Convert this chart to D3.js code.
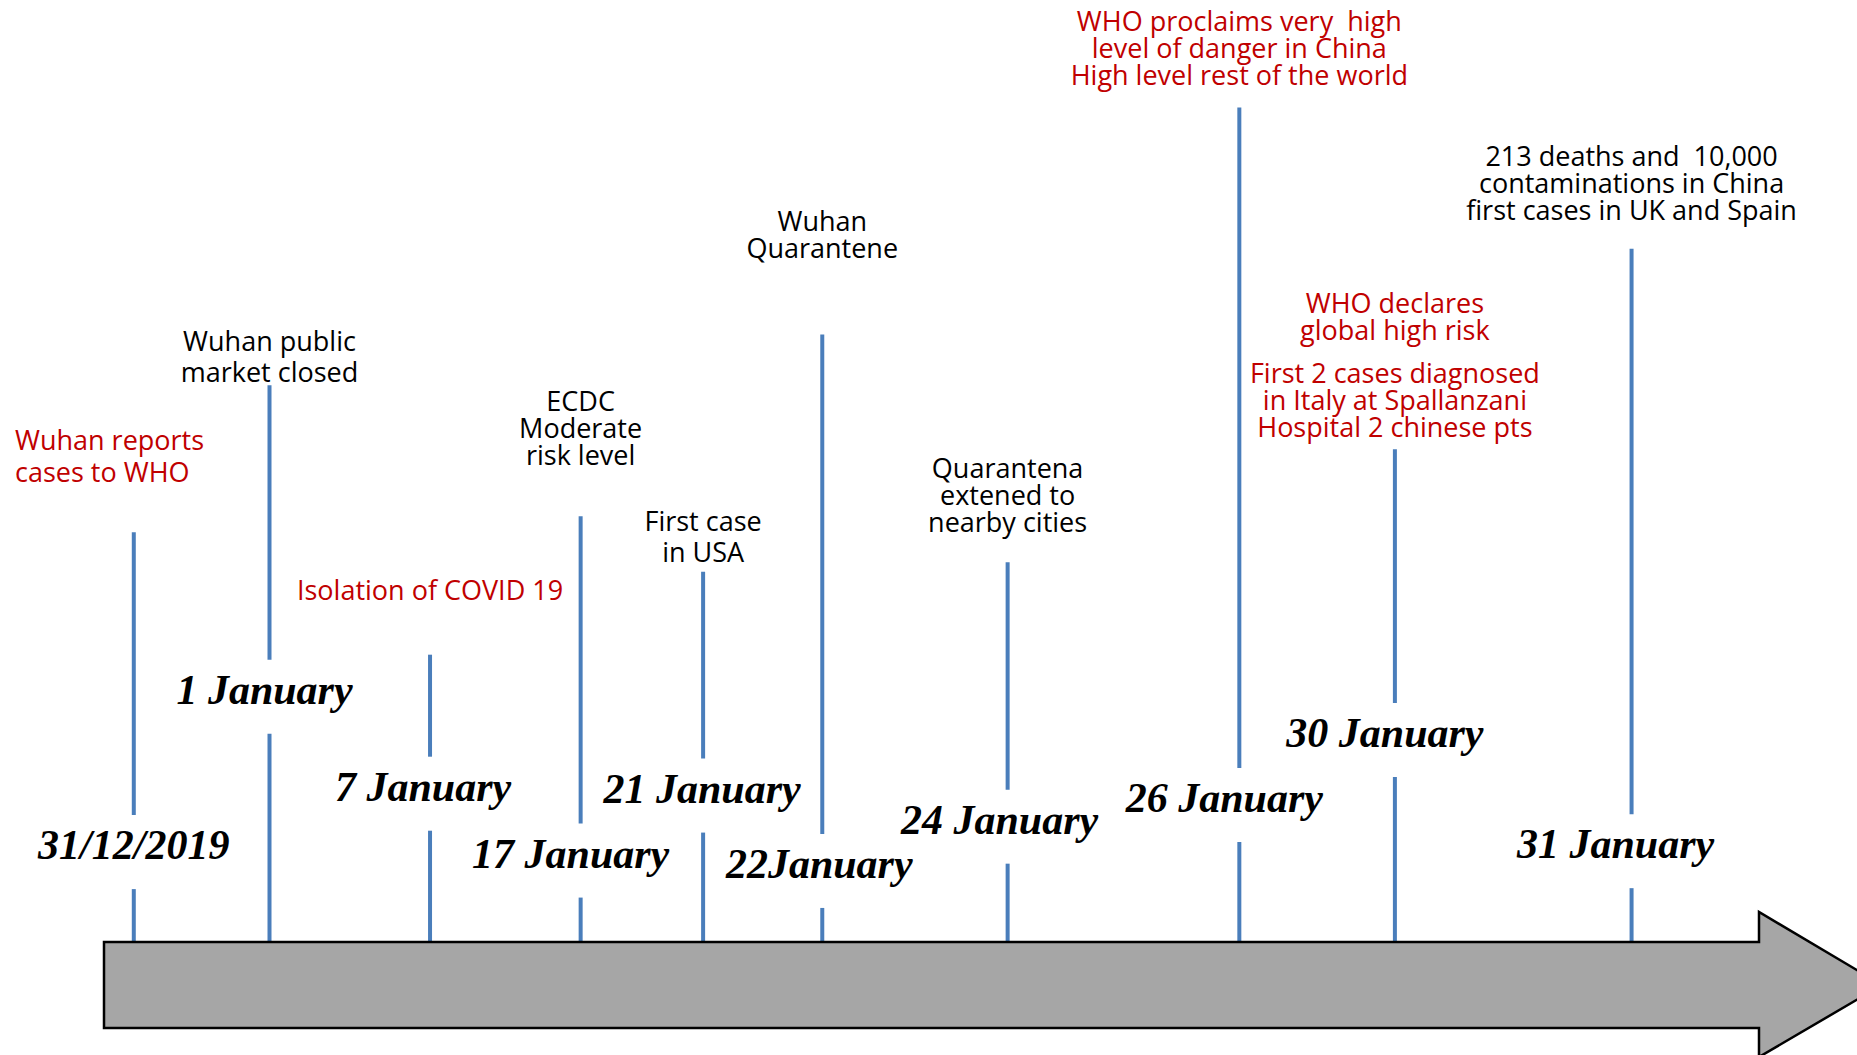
<!DOCTYPE html>
<html>
<head>
<meta charset="utf-8">
<script src="https://cdn.jsdelivr.net/npm/d3@7"></script>
<style>
  body { margin: 0; background: #fff; }
  svg { display: block; }
  .date { font-family: "Liberation Serif", "Times New Roman", serif; font-weight: bold; font-style: italic; font-size: 42px; fill: #000; }
  .note { font-family: "Open Sans", sans-serif; font-size: 27px; white-space: pre; }
  .stem { stroke: #4a7ebb; stroke-width: 4; }
</style>
</head>
<body>
<div id="timeline"></div>
<script>
const width = 1857, height = 1055;

// events, in order along the arrow
const dates = ["31/12/2019", "1 January", "7 January", "17 January", "21 January",
  "22January", "24 January", "26 January", "30 January", "31 January"];

// where each event sits along the timeline (0 = tail, 100 = arrow head)
const slots = [1.8, 10.0, 19.7, 28.8, 36.2, 43.4, 54.6, 68.6, 78.0, 92.3];

// how high each stem reaches, and the level of the date / the note's last line
const reach = [43.5, 59.1, 30.5, 45.2, 39.3, 64.5, 40.3, 88.6, 52.3, 73.6];
const dateLevel = [8.8, 25.3, 15.0, 7.9, 14.8, 6.8, 11.5, 13.8, 20.7, 8.9];
const noteLevel = [48.8, 59.5, 36.3, 50.6, 40.3, 72.6, 43.5, 91.0, 53.6, 76.6];

const notes = [
  ["Wuhan reports", "cases to WHO"],
  ["Wuhan public", "market closed"],
  ["Isolation of COVID 19"],
  ["ECDC", "Moderate", "risk level"],
  ["First case", "in USA"],
  ["Wuhan", "Quarantene"],
  ["Quarantena", "extened to", "nearby cities"],
  ["WHO proclaims very  high", "level of danger in China", "High level rest of the world"],
  ["WHO declares", "global high risk", "", "First 2 cases diagnosed", "in Italy at Spallanzani", "Hospital 2 chinese pts"],
  ["213 deaths and  10,000", "contaminations in China", "first cases in UK and Spain"]
];
const noteKind = ["alert", "info", "alert", "info", "info", "info", "info", "alert", "alert", "info"];

// layout
const leading = [32, 31, 27, 27, 31, 27, 27, 27, 27, 27];
const noteAlign = ["start", "middle", "middle", "middle", "middle", "middle", "middle", "middle", "middle", "middle"];
const dateNudge = [0, -5, -7, -10, -1, -3, -8, -15, -10, -16];
const leftMargin = 15;
const arrow = { left: 104, right: 1759, top: 942, bottom: 1028, headTop: 912, headBottom: 1057, tip: 1882 };

const events = dates.map((d, i) => ({
  date: d, slot: slots[i], reach: reach[i], dateLevel: dateLevel[i],
  noteLevel: noteLevel[i], lines: notes[i], kind: noteKind[i],
  leading: leading[i], align: noteAlign[i], nudge: dateNudge[i]
}));

const x = d3.scaleLinear().domain([0, 100]).range([arrow.left, arrow.right]);
const y = d3.scaleLinear().domain([0, 100]).range([arrow.top, 0]);
const color = d3.scaleOrdinal().domain(["alert", "info"]).range(["#c00000", "#000000"]);

const svg = d3.select("#timeline")
  .append("svg")
  .attr("width", width)
  .attr("height", height);

svg.append("rect").attr("width", width).attr("height", height).attr("fill", "#fff");

// stems, broken where the date sits
const stems = svg.append("g").attr("id", "stems")
  .selectAll("g")
  .data(events)
  .join("g");

stems.append("line")
  .attr("class", "stem")
  .attr("x1", (d) => x(d.slot)).attr("x2", (d) => x(d.slot))
  .attr("y1", (d) => y(d.reach))
  .attr("y2", (d) => y(d.dateLevel) - 44);

stems.append("line")
  .attr("class", "stem")
  .attr("x1", (d) => x(d.slot)).attr("x2", (d) => x(d.slot))
  .attr("y1", (d) => y(d.dateLevel) + 30)
  .attr("y2", y(0));

// the big arrow
const arrowPath = d3.path();
arrowPath.moveTo(arrow.left, arrow.top);
arrowPath.lineTo(arrow.right, arrow.top);
arrowPath.lineTo(arrow.right, arrow.headTop);
arrowPath.lineTo(arrow.tip, (arrow.top + arrow.bottom) / 2);
arrowPath.lineTo(arrow.right, arrow.headBottom);
arrowPath.lineTo(arrow.right, arrow.bottom);
arrowPath.lineTo(arrow.left, arrow.bottom);
arrowPath.closePath();

svg.append("path")
  .attr("d", arrowPath.toString())
  .attr("fill", "#a6a6a6")
  .attr("stroke", "#000")
  .attr("stroke-width", 2.5);

// dates
svg.append("g").attr("id", "dates")
  .selectAll("text")
  .data(events)
  .join("text")
  .attr("class", "date")
  .attr("text-anchor", "middle")
  .attr("x", (d) => x(d.slot) + d.nudge)
  .attr("y", (d) => y(d.dateLevel))
  .text((d) => d.date);

// offset of each note line above the last one (a blank line is a shorter gap)
function lineOffsets(ev) {
  const offs = new Array(ev.lines.length).fill(0);
  for (let i = ev.lines.length - 2; i >= 0; i--) {
    const step = ev.lines[i + 1] === "" || ev.lines[i] === "" ? ev.leading * 0.8 : ev.leading;
    offs[i] = offs[i + 1] + step;
  }
  return offs;
}

// notes above the stems
const noteGroups = svg.append("g").attr("id", "notes")
  .selectAll("text")
  .data(events)
  .join("text")
  .attr("class", "note")
  .attr("fill", (d) => color(d.kind))
  .attr("text-anchor", (d) => d.align);

noteGroups.selectAll("tspan")
  .data((d) => {
    const offs = lineOffsets(d);
    return d.lines.map((line, i) => ({ line, off: offs[i], ev: d }));
  })
  .join("tspan")
  .attr("x", (t) => t.ev.align === "start" ? leftMargin : x(t.ev.slot))
  .attr("y", (t) => y(t.ev.noteLevel) - t.off)
  .text((t) => t.line);
</script>
</body>
</html>
